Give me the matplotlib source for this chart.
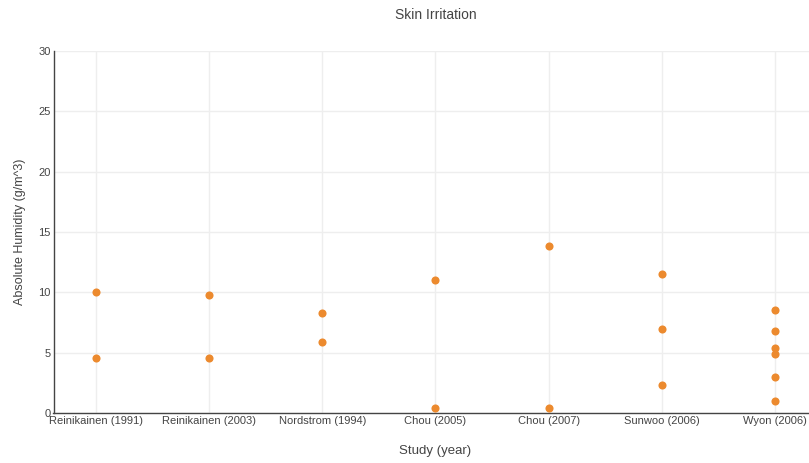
import numpy as np
import matplotlib.pyplot as plt

plt.rcParams['font.family'] = ['Liberation Sans', 'DejaVu Sans']

studies = ['Reinikainen (1991)', 'Reinikainen (2003)', 'Nordstrom (1994)',
           'Chou (2005)', 'Chou (2007)', 'Sunwoo (2006)', 'Wyon (2006)']
# humidity values per study (g/m^3)
humidity = [
    [10.05, 4.58],
    [9.78, 4.58],
    [8.3, 5.88],
    [11.02, 0.44],
    [13.83, 0.44],
    [11.55, 6.94, 2.36],
    [8.57, 6.8, 5.39, 4.87, 2.96, 1.0],
]

xs = []
ys = []
for i, vals in enumerate(humidity):
    for v in vals:
        xs.append(i)
        ys.append(v)

fig = plt.figure(figsize=(8.09, 4.63), dpi=100)
ax = fig.add_axes([53.5 / 809, 50 / 463, 764 / 809, 362 / 463])

ax.scatter(xs, ys, s=34, color='#ec8a2e', zorder=3, linewidths=0)

ax.set_xlim(-0.375, 6.375)
ax.set_ylim(0, 30)
ax.set_xticks(range(len(studies)))
ax.set_xticklabels(studies)
ax.set_yticks([0, 5, 10, 15, 20, 25, 30])

ax.grid(True, color='#eeeeee', linewidth=1, zorder=0)
for s in ['top', 'right']:
    ax.spines[s].set_visible(False)
for s in ['left', 'bottom']:
    ax.spines[s].set_color('#444444')
    ax.spines[s].set_linewidth(1)
ax.tick_params(length=0, labelsize=8, colors='#444444', pad=2)

ax.set_xlabel('Study (year)', fontsize=9.5, color='#444444', labelpad=14)
ax.set_ylabel('Absolute Humidity (g/m^3)', fontsize=9, color='#444444')
ax.yaxis.set_label_coords(-27.5 / 764, 0.5)
fig.text(436 / 809, 1 - 15 / 463, 'Skin Irritation', fontsize=10, color='#444444',
         ha='center', va='center')

fig.savefig('out.png', dpi=100)
